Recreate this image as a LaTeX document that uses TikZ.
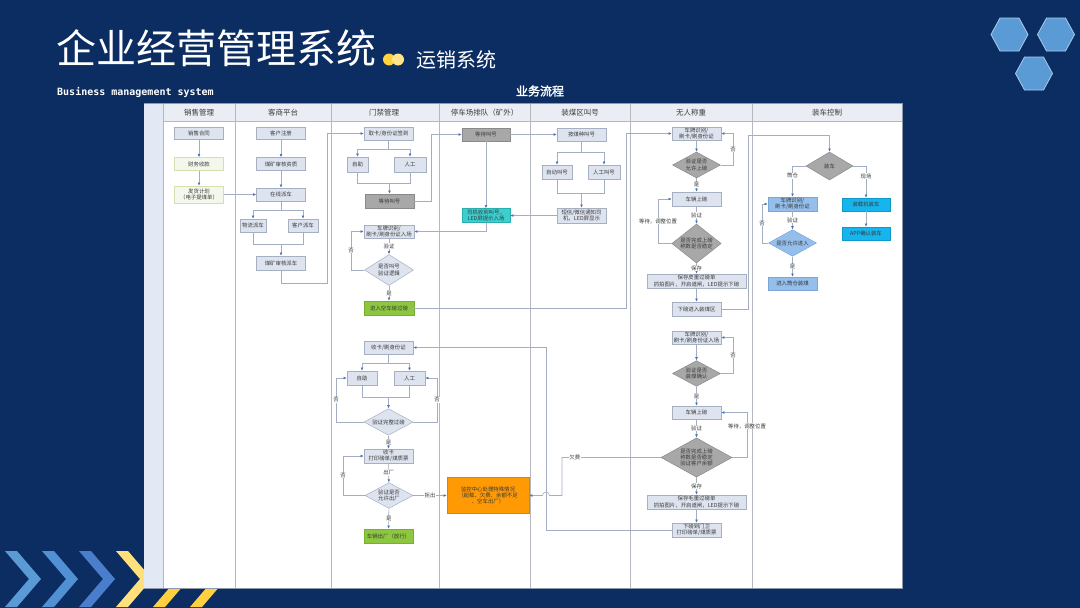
\documentclass[tikz,border=0pt]{standalone}
\usepackage{fontspec}
\setmainfont{Noto Sans CJK SC}
\newfontfamily\monof{DejaVu Sans Mono}
\newfontfamily\cjkb[FakeBold=2]{Noto Sans CJK SC}
\usetikzlibrary{shapes.geometric,arrows.meta}
\newcommand\smallfs{\fontsize{5.4}{6.3}\selectfont}
\newcommand\headfs{\fontsize{7.5}{9}\selectfont}
\definecolor{bgc}{HTML}{0B2D62}
\definecolor{hexc}{HTML}{5B9BD5}
\definecolor{hexl}{HTML}{A9CBEB}
\definecolor{chv1}{HTML}{5B9BD5}
\definecolor{chv2}{HTML}{5090D3}
\definecolor{chv3}{HTML}{4A7DCB}
\definecolor{chy1}{HTML}{FFE07A}
\definecolor{chy2}{HTML}{FFD03F}
\definecolor{dotA}{HTML}{FFD23F}
\definecolor{dotB}{HTML}{FFE58A}
\definecolor{panelb}{HTML}{8E99AE}
\definecolor{stripc}{HTML}{E3E8F5}
\definecolor{headc}{HTML}{EAEDF3}
\definecolor{sepc}{HTML}{B4B8C0}
\definecolor{txt}{HTML}{3A3A3A}
\definecolor{boxfill}{HTML}{DDE3EF}
\definecolor{boxline}{HTML}{A7B0C0}
\definecolor{greenf}{HTML}{F4F7EC}
\definecolor{greend}{HTML}{D3E0AE}
\definecolor{graybox}{HTML}{A8A8A8}
\definecolor{graydraw}{HTML}{8A8A8A}
\definecolor{greenb}{HTML}{8DC63F}
\definecolor{greenbd}{HTML}{7AAE30}
\definecolor{cyanb}{HTML}{3CCFCF}
\definecolor{cyand}{HTML}{2AAFAF}
\definecolor{orangeb}{HTML}{FF9A05}
\definecolor{oranged}{HTML}{E08400}
\definecolor{lblue}{HTML}{94BEEB}
\definecolor{lblued}{HTML}{7AA6D6}
\definecolor{cyantwo}{HTML}{17B5EE}
\definecolor{cyantwod}{HTML}{0E98CC}
\definecolor{linec}{HTML}{A3AEC2}
\definecolor{arrc}{HTML}{4A74BD}
\tikzset{
 bx/.style={draw=boxline, fill=boxfill, line width=0.5pt, inner sep=0.3pt, align=center, font=\smallfs, text=txt},
 gbx/.style={bx, fill=graybox, draw=graydraw},
 dia/.style={diamond, aspect=1.5, draw=boxline, fill=boxfill, line width=0.5pt, inner sep=0pt, align=center, font=\smallfs, text=txt},
 gdia/.style={dia, fill=graybox, draw=graydraw},
 wh/.style 2 args={minimum width=#1pt, minimum height=#2pt},
 ln/.style={draw=linec, line width=0.6pt},
 arr/.style={ln, -{Latex[length=3.2pt,width=2.8pt,color=arrc]}},
 lab/.style={font=\smallfs, fill=white, inner sep=0.4pt, text=txt},
 hdr/.style={font=\headfs, text=txt, inner sep=0pt},
}
\begin{document}
\begin{tikzpicture}[x=1pt,y=-1pt]
\fill[bgc] (0,0) rectangle (1080,608);
\useasboundingbox (0,0) rectangle (1080,608);

% title
\node[anchor=west, text=white, font=\fontsize{40}{40}\selectfont, inner sep=0] (title) at (56,48.5) {企业经营管理系统};
\fill[dotA] (389,59.5) circle (6);
\fill[dotB] (398,59.5) circle (6);
\node[anchor=west, text=white, font=\fontsize{20}{20}\selectfont, inner sep=0] (subtitle) at (416,60) {运销系统};
\node[anchor=west, text=white, font=\monof\bfseries\fontsize{10}{10}\selectfont, inner sep=0] (eng) at (57,92.5) {Business management system};
\node[text=white, font=\cjkb\fontsize{12}{12}\selectfont, inner sep=0] (flowtitle) at (540,91) {业务流程};

% hexagons
\foreach \cx/\cy in {1009.5/34.5, 1056/34.5, 1034/73.5} {
  \filldraw[fill=hexc, draw=hexl, line width=0.8pt] (\cx-18.5,\cy) -- (\cx-9.5,\cy-16.5) -- (\cx+9.5,\cy-16.5) -- (\cx+18.5,\cy) -- (\cx+9.5,\cy+16.5) -- (\cx-9.5,\cy+16.5) -- cycle;
}

% chevrons
\foreach \x/\c in {5/chv1, 42/chv2, 79/chv3, 116/chy1, 153/chy2, 190/chy2} {
  \fill[\c] (\x,551) -- (\x+12,551) -- (\x+36,579) -- (\x+12,607) -- (\x,607) -- (\x+24,579) -- cycle;
}

% panel
\filldraw[fill=white, draw=panelb, line width=0.8pt] (144,103) rectangle (902,588);
\fill[stripc] (144.4,103.4) rectangle (163,587.6);
\fill[headc] (163,103.4) rectangle (901.6,121);
\draw[sepc, line width=0.6pt] (163,121) -- (902,121);
\foreach \x in {163,235,331,439,530,630,752} \draw[sepc, line width=0.6pt] (\x,103) -- (\x,588);
\draw[panelb, line width=1.2pt] (144,103.6) -- (902,103.6);

\node[hdr] (h1) at (199,112.5) {销售管理};
\node[hdr] (h2) at (283,112.5) {客商平台};
\node[hdr] (h3) at (384,112.5) {门禁管理};
\node[hdr] (h4) at (484.5,112.5) {停车场排队（矿外）};
\node[hdr] (h5) at (580,112.5) {装煤区叫号};
\node[hdr] (h6) at (691,112.5) {无人称重};
\node[hdr] (h7) at (827,112.5) {装车控制};

% sales
\node[bx,wh={49}{12}] (s1) at (199,133) {销售合同};
\node[bx,wh={49}{13},fill=greenf,draw=greend] (s2) at (199,164) {财务收款};
\node[bx,wh={49}{17},fill=greenf,draw=greend] (s3) at (199,194.5) {发货计划\\（电子提煤单）};
% customer platform
\node[bx,wh={49}{12}] (k1) at (281,133) {客户注册};
\node[bx,wh={49}{13}] (k2) at (281,164) {煤矿审核资质};
\node[bx,wh={49}{13}] (k3) at (281,194.5) {在线派车};
\node[bx,wh={26}{13}] (k4) at (253,225.5) {物流派车};
\node[bx,wh={30}{13}] (k5) at (303,225.5) {客户派车};
\node[bx,wh={49}{14}] (k6) at (281,263) {煤矿审核派车};
% gate
\node[bx,wh={49}{13}] (m1) at (388.5,133.5) {取卡/身份证签到};
\node[bx,wh={21}{15}] (m2) at (357.5,164.5) {自助};
\node[bx,wh={32}{15}] (m3) at (410,164.5) {人工};
\node[gbx,wh={49}{14}] (m4) at (389.5,201) {等待叫号};
\node[bx,wh={50}{13}] (m5) at (389,231.5) {车牌识别/\\刷卡/刷身份证入场};
\node[dia,wh={49}{31}] (m6) at (389,270) {是否叫号\\验证逻辑};
\node[bx,wh={50}{14},fill=greenb,draw=greenbd] (m7) at (389,308) {进入空车磅过磅};
\node[bx,wh={49}{13}] (m8) at (388.5,347.5) {收卡/刷身份证};
\node[bx,wh={30}{14}] (m9) at (362,378) {自助};
\node[bx,wh={31}{14}] (m10) at (409.5,378) {人工};
\node[dia,wh={49}{26}] (m11) at (388.5,422) {验证完整过磅};
\node[bx,wh={49}{14}] (m12) at (388.5,456) {收卡\\打印磅单/煤质票};
\node[dia,wh={48}{25}] (m13) at (389,495.5) {验证是否\\允许出厂};
\node[bx,wh={49}{14},fill=greenb,draw=greenbd] (m14) at (388.5,536) {车辆出厂（放行）};
% parking
\node[gbx,wh={48}{13}] (p1) at (486,134.5) {等待叫号};
\node[bx,wh={48}{14},fill=cyanb,draw=cyand] (p2) at (486,215.5) {司机收到叫号，\\LED屏提示入场};
\node[bx,wh={82}{36},fill=orangeb,draw=oranged] (p3) at (488,495.5) {监控中心处理特殊情况\\（超载、欠费、余额不足\\、空车出厂）};
% coal loading call
\node[bx,wh={49}{13}] (z1) at (581.5,134.5) {按煤种叫号};
\node[bx,wh={30}{14}] (z2) at (557,172) {自动叫号};
\node[bx,wh={32}{14}] (z3) at (604,172) {人工叫号};
\node[bx,wh={49}{15}] (z4) at (581.5,215.5) {短信/微信通知司\\机，LED屏显示};
% weighing
\node[bx,wh={49}{13}] (w1) at (696.5,133.5) {车牌识别/\\刷卡/刷身份证};
\node[gdia,wh={48}{26}] (w2) at (696.5,165) {验证是否\\允许上磅};
\node[bx,wh={49}{14}] (w3) at (696.5,199) {车辆上磅};
\node[gdia,wh={49}{39}] (w4) at (696.5,243.5) {是否完成上磅\\称数是否稳定};
\node[bx,wh={99}{14}] (w5) at (696.5,281) {保存皮重过磅单\\抓拍图片，开启道闸，LED提示下磅};
\node[bx,wh={49}{14}] (w6) at (696.5,309) {下磅进入装煤区};
\node[bx,wh={49}{13}] (w7) at (696.5,337.5) {车牌识别/\\刷卡/刷身份证入场};
\node[gdia,wh={48}{23}] (w8) at (696.5,373.5) {验证是否\\装煤确认};
\node[bx,wh={49}{13}] (w9) at (696.5,412.5) {车辆上磅};
\node[gdia,wh={71}{39}] (w10) at (696.5,457.5) {是否完成上磅\\称数是否稳定\\验证客户余额};
\node[bx,wh={99}{14}] (w11) at (696.5,502) {保存毛重过磅单\\抓拍图片，开启道闸，LED提示下磅};
\node[bx,wh={49}{14}] (w12) at (696.5,530) {下磅到门卫\\打印磅单/煤质票};
% loading control
\node[gdia,wh={47}{28}] (c1) at (829.5,166) {装车};
\node[bx,wh={49}{14},fill=lblue,draw=lblued] (c2) at (792.5,204) {车牌识别/\\刷卡/刷身份证};
\node[dia,wh={48}{26},fill=lblue,draw=lblued] (c3) at (792.5,243) {是否允许进入};
\node[bx,wh={49}{13},fill=lblue,draw=lblued] (c4) at (792.5,283.5) {进入筒仓装煤};
\node[bx,wh={48}{13},fill=cyantwo,draw=cyantwod] (c5) at (866,204.5) {装载机装车};
\node[bx,wh={48}{13},fill=cyantwo,draw=cyantwod] (c6) at (866,233.5) {APP确认装车};

% helper coordinates
\coordinate (kj1) at (281,210);
\coordinate (kj2) at (281,244);
\coordinate (kc1) at (327,283);
\coordinate (mj1) at (388.5,149);
\coordinate (mj2) at (389.5,183);
\coordinate (mc1) at (431,201);
\coordinate (zj1) at (581.5,152);
\coordinate (zj2) at (581.5,193);
\coordinate (ml1) at (351,270);
\coordinate (gc1) at (626,308);
\coordinate (wl1) at (733,165);
\coordinate (wl2) at (658,243.5);
\coordinate (wc1) at (748,309);
\coordinate (wc2) at (748,135);
\coordinate (cl1) at (762,243);
\coordinate (wl3) at (733,373.5);
\coordinate (wl4) at (747,457.5);
\coordinate (wb1) at (562,457.5);
\coordinate (wb2) at (562,495.5);
\coordinate (hop1) at (549.5,495.5);
\coordinate (wd1) at (546,530);
\coordinate (mj3) at (388.5,363);
\coordinate (mj4) at (388.5,397);
\coordinate (ml2) at (336,422);
\coordinate (ml3) at (437,422);
\coordinate (ml4) at (343,495.5);

% connectors: sales / customer
\draw[arr] (s1) -- (s2);
\draw[arr] (s2) -- (s3);
\draw[arr] (s3) -- (k3);
\draw[arr] (k1) -- (k2);
\draw[arr] (k2) -- (k3);
\draw[ln] (k3) -- (kj1);
\draw[arr] (kj1) -| (k4);
\draw[arr] (kj1) -| (k5);
\draw[ln] (k4) |- (kj2);
\draw[ln] (k5) |- (kj2);
\draw[arr] (kj2) -- (k6);
\draw[arr] (k6) |- (kc1) |- (m1);
% gate upper
\draw[ln] (m1) -- (mj1);
\draw[arr] (mj1) -| (m2);
\draw[arr] (mj1) -| (m3);
\draw[ln] (m2) |- (mj2);
\draw[ln] (m3) |- (mj2);
\draw[arr] (mj2) -- (m4);
\draw[arr] (m4) -- (mc1) |- (p1);
\draw[arr] (p1) -- (p2);
\draw[arr] (p1) -- (z1);
\draw[ln] (z1) -- (zj1);
\draw[arr] (zj1) -| (z2);
\draw[arr] (zj1) -| (z3);
\draw[ln] (z2) |- (zj2);
\draw[ln] (z3) |- (zj2);
\draw[arr] (zj2) -- (z4);
\draw[arr] (z4) -- (p2);
\draw[arr] (p2) |- (m5);
\draw[arr] (m5) -- node[lab]{验证} (m6);
\draw[arr] (m6) -- (ml1) |- node[lab,pos=0.25]{否} (m5);
\draw[arr] (m6) -- node[lab]{是} (m7);
\draw[arr] (m7) -- (gc1) |- (w1);
% weighing upper
\draw[arr] (w1) -- (w2);
\draw[arr] (w2) -- (wl1) |- node[lab,pos=0.25]{否} (w1);
\draw[arr] (w2) -- node[lab]{是} (w3);
\draw[arr] (w3) -- node[lab]{验证} (w4);
\draw[arr] (w4) -- (wl2) |- node[lab,pos=0.25]{等待，调整位置} (w3);
\draw[arr] (w4) -- node[lab]{保存} (w5);
\draw[arr] (w5) -- (w6);
\draw[arr] (w6) -- (wc1) -- (wc2) -| (c1);
% loading control
\draw[arr] (c1) -| node[lab,pos=0.66]{筒仓} (c2);
\draw[arr] (c1) -| node[lab,pos=0.66]{现场} (c5);
\draw[arr] (c2) -- node[lab]{验证} (c3);
\draw[arr] (c3) -- (cl1) |- node[lab,pos=0.25]{否} (c2);
\draw[arr] (c3) -- node[lab]{是} (c4);
\draw[arr] (c5) -- (c6);
% weighing lower
\draw[arr] (w7) -- (w8);
\draw[arr] (w8) -- (wl3) |- node[lab,pos=0.25]{否} (w7);
\draw[arr] (w8) -- node[lab]{是} (w9);
\draw[arr] (w9) -- node[lab]{验证} (w10);
\draw[arr] (w10) -- (wl4) |- node[lab,pos=0.35]{等待，调整位置} (w9);
\draw[arr] (w10) -- node[lab]{保存} (w11);
\draw[arr] (w11) -- (w12);
\draw[arr] (w12) -- (wd1) |- (m8);
\draw[arr] (w10) -- node[lab,pos=0.87]{欠费} (wb1) -- (wb2) -- (hop1) arc[start angle=0,end angle=-180,radius=3.5] -- (p3);
% gate lower
\draw[ln] (m8) -- (mj3);
\draw[arr] (mj3) -| (m9);
\draw[arr] (mj3) -| (m10);
\draw[ln] (m9) |- (mj4);
\draw[ln] (m10) |- (mj4);
\draw[arr] (mj4) -- (m11);
\draw[arr] (m11) -- (ml2) |- node[lab,pos=0.25]{否} (m9);
\draw[arr] (m11) -- (ml3) |- node[lab,pos=0.25]{否} (m10);
\draw[arr] (m11) -- node[lab]{是} (m12);
\draw[arr] (m12) -- node[lab]{出厂} (m13);
\draw[arr] (m13) -- (ml4) |- node[lab,pos=0.25]{否} (m12);
\draw[arr] (m13) -- node[lab]{拒出} (p3);
\draw[arr] (m13) -- node[lab]{是} (m14);
\end{tikzpicture}
\end{document}
